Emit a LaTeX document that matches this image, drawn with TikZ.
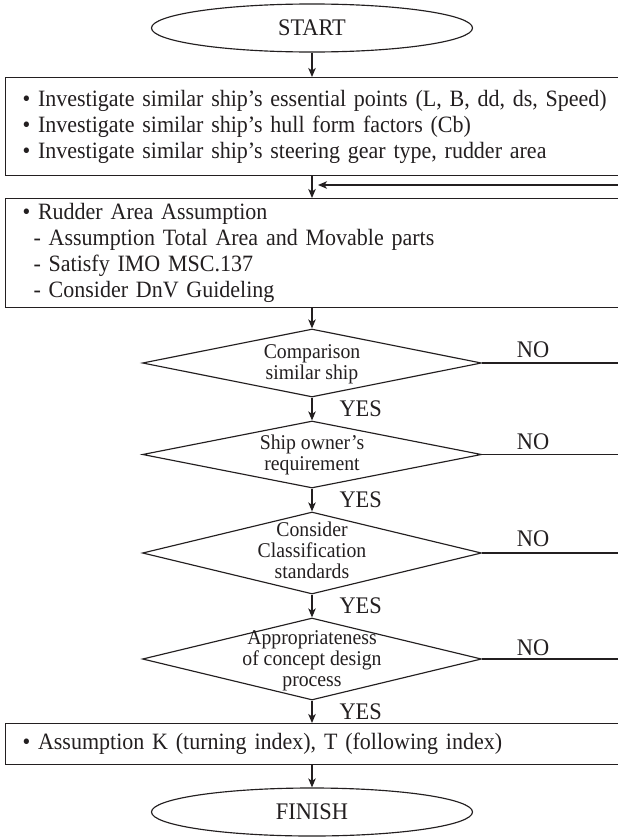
\documentclass[tikz,border=0pt]{standalone}
\usepackage{fontspec}
\setmainfont{Liberation Serif}[FakeStretch=0.94]
\usetikzlibrary{shapes.geometric,arrows.meta}
\definecolor{ink}{RGB}{35,31,32}
\newcommand\bxfont{\fontsize{23.4}{26}\selectfont}
\newcommand\lbfont{\fontsize{23.8}{26}\selectfont}
\newcommand\dfont{\fontsize{21}{21}\selectfont}
\begin{document}
\begin{tikzpicture}[x=1pt,y=-1pt,line width=1.15pt,color=ink,
  terminal/.style={draw,ellipse,minimum width=321pt,minimum height=48pt,inner sep=0pt,font=\lbfont},
  proc/.style={draw,rectangle,anchor=north west,inner xsep=17pt,inner ysep=0pt,
    text width=600pt,align=left,font=\bxfont},
  decision/.style={draw,diamond,minimum width=339pt,inner sep=0pt},
  dtext/.style={align=center,font=\dfont,inner sep=0pt},
  arr/.style={-{Stealth[length=9pt,width=7.5pt,inset=2.5pt]}},
  yes/.style={anchor=west,xshift=27pt,font=\lbfont,inner sep=0pt},
  nolabel/.style={font=\lbfont,inner sep=0pt}]
\fill[white] (0,0) rectangle (618,838);
\useasboundingbox (0,0) rectangle (618,838);

% terminals and process boxes
\node[terminal] (start) at (312,28) {START};
\node[proc,minimum height=98pt] (b1) at (5,77)
  {• Investigate similar ship’s essential points (L, B, dd, ds, Speed)\\
   • Investigate similar ship’s hull form factors (Cb)\\
   • Investigate similar ship’s steering gear type, rudder area};
\node[proc,minimum height=109pt] (b2) at (5,198)
  {• Rudder Area Assumption\\
   \hspace*{11pt}- Assumption Total Area and Movable parts\\
   \hspace*{11pt}- Satisfy IMO MSC.137\\
   \hspace*{11pt}- Consider DnV Guideling};

% decisions
\node[decision,minimum height=68pt] (d1) at (312,363) {};
\node[dtext] (t1) at (312,364) {Comparison\\similar ship};
\node[decision,minimum height=67pt] (d2) at (312,454.5) {};
\node[dtext] (t2) at (312,454.5) {Ship owner’s\\requirement};
\node[decision,minimum height=82pt] (d3) at (312,553) {};
\node[dtext] (t3) at (312,550) {Consider\\Classification\\standards};
\node[decision,minimum height=82pt] (d4) at (312,659) {};
\node[dtext] (t4) at (312,661) {Appropriateness\\of concept design\\process};

\node[proc,minimum height=41pt] (b3) at (5,723)
  {• Assumption K (turning index), T (following index)};
\node[terminal] (finish) at (312,812) {FINISH};

% main flow
\draw[arr] (start.south) -- (start.south |- b1.north);
\draw[arr] (start.south |- b1.south) -- (start.south |- b2.north);
\draw[arr] (d1.north |- b2.south) -- (d1.north);
\draw[arr] (d1.south) -- node[yes] (y1) {YES} (d2.north);
\draw[arr] (d2.south) -- node[yes] (y2) {YES} (d3.north);
\draw[arr] (d3.south) -- node[yes] (y3) {YES} (d4.north);
\draw[arr] (d4.south) -- node[yes] (y4) {YES} (d4.south |- b3.north);
\draw[arr] (finish.north |- b3.south) -- (finish.north);

% return path
\coordinate (fbin) at (640,185);
\coordinate (fbtip) at (318,185);
\draw[arr] (fbin) -- (fbtip);

% NO branches
\draw (d1.east) -- (d1.east -| fbin);
\draw (d2.east) -- (d2.east -| fbin);
\draw (d3.east) -- (d3.east -| fbin);
\draw (d4.east) -- (d4.east -| fbin);
\node[nolabel] (n1) at (533,350) {NO};
\node[nolabel] (n2) at (533,442) {NO};
\node[nolabel] (n3) at (533,539) {NO};
\node[nolabel] (n4) at (533,648) {NO};
\end{tikzpicture}
\end{document}
